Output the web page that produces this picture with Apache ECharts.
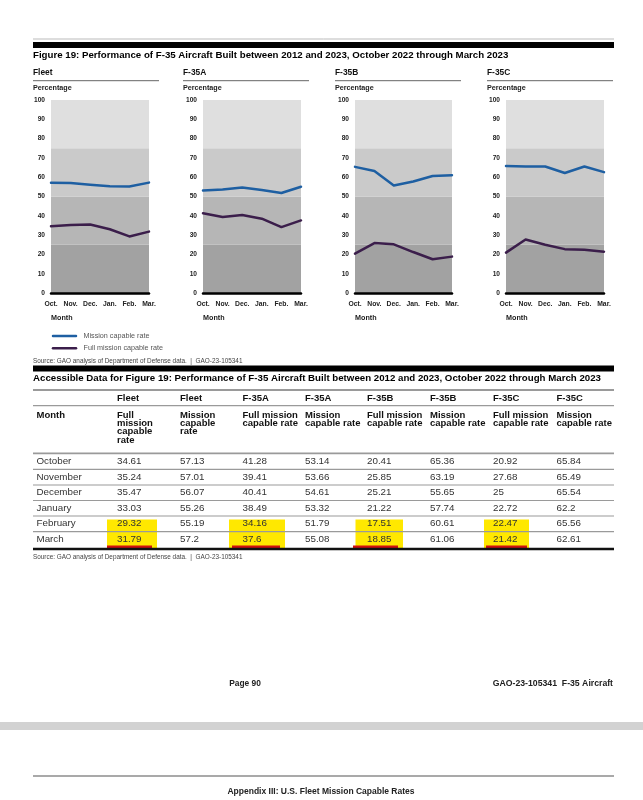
<!DOCTYPE html>
<html>
<head>
<meta charset="utf-8">
<script src="https://cdn.jsdelivr.net/npm/echarts@6/dist/echarts.min.js"></script>
<style>
html,body{margin:0;padding:0;background:#fff;}
#c{width:643px;height:800px;}
</style>
</head>
<body>
<div id="c"></div>
<script>
// ---- data ----
var monthsShort = ['Oct.', 'Nov.', 'Dec.', 'Jan.', 'Feb.', 'Mar.'];
var monthsLong = ['October', 'November', 'December', 'January', 'February', 'March'];
var panelTitles = ['Fleet', 'F-35A', 'F-35B', 'F-35C'];
var fleetFull = [34.61, 35.24, 35.47, 33.03, 29.32, 31.79];
var fleetMission = [57.13, 57.01, 56.07, 55.26, 55.19, 57.2];
var aFull = [41.28, 39.41, 40.41, 38.49, 34.16, 37.6];
var aMission = [53.14, 53.66, 54.61, 53.32, 51.79, 55.08];
var bFull = [20.41, 25.85, 25.21, 21.22, 17.51, 18.85];
var bMission = [65.36, 63.19, 55.65, 57.74, 60.61, 61.06];
var cFull = [20.92, 27.68, 25, 22.72, 22.47, 21.42];
var cMission = [65.84, 65.49, 65.54, 62.2, 65.56, 62.61];
var yTicks = [0, 10, 20, 30, 40, 50, 60, 70, 80, 90, 100];
var bandEdges = [0, 25, 50, 75, 100];

var fullSets = [fleetFull, aFull, bFull, cFull];
var missionSets = [fleetMission, aMission, bMission, cMission];

// ---- layout / style ----
var FONT = '"Liberation Sans", Arial, sans-serif';
var gridLefts = [51, 203, 355, 506];
var gridWidths = [98, 98, 97, 98];
var titleX = [33, 183, 335, 487];
var bandColors = ['#a2a2a2', '#b6b6b6', '#cacaca', '#dfdfdf'];
var missionColor = '#1e5fa2';
var fullColor = '#3b1e4b';

var grids = [], xAxes = [], yAxes = [], series = [];
for (var i = 0; i < 4; i++) {
  grids.push({ left: gridLefts[i], width: gridWidths[i], top: 100, height: 193, containLabel: false });
  xAxes.push({
    type: 'category', gridIndex: i, data: monthsShort, boundaryGap: false,
    axisLine: { show: true, onZero: false, lineStyle: { color: '#000', width: 2.5 } },
    axisTick: { show: false },
    axisLabel: { interval: 0, fontSize: 6.8, fontWeight: 'bold', color: '#222', fontFamily: FONT, margin: 8 },
    splitLine: { show: false }, z: 5
  });
  yAxes.push({
    type: 'value', gridIndex: i, min: 0, max: 100, interval: 10,
    axisLine: { show: false }, axisTick: { show: false }, splitLine: { show: false },
    axisLabel: { fontSize: 6.6, fontWeight: 'bold', color: '#222', fontFamily: FONT, margin: 6 }
  });
  var bands = [];
  for (var b = 0; b < 4; b++) {
    bands.push([{ yAxis: bandEdges[b], itemStyle: { color: bandColors[b], opacity: 1 } }, { yAxis: bandEdges[b + 1] }]);
  }
  series.push({
    name: 'Full mission capable rate', type: 'line', xAxisIndex: i, yAxisIndex: i,
    data: fullSets[i], symbol: 'none', smooth: false, color: fullColor,
    lineStyle: { color: fullColor, width: 2.5, join: 'round', cap: 'round' },
    markArea: { silent: true, data: bands, label: { show: false } },
    z: 2
  });
  series.push({
    name: 'Mission capable rate', type: 'line', xAxisIndex: i, yAxisIndex: i,
    data: missionSets[i], symbol: 'none', smooth: false, color: missionColor,
    lineStyle: { color: missionColor, width: 2.5, join: 'round', cap: 'round' },
    z: 3
  });
}

// ---- graphic elements (page text, legend, table) ----
var g = [];
function txt(x, y, s, size, weight, color, align) {
  g.push({ type: 'text', silent: true, style: { x: x, y: y, text: s, fontSize: size, fontWeight: weight || 'normal',
    fill: color || '#111', fontFamily: FONT, align: align || 'left', verticalAlign: 'middle' } });
}
function hline(x1, x2, y, w, color) {
  g.push({ type: 'line', silent: true, shape: { x1: x1, y1: y, x2: x2, y2: y }, style: { stroke: color, lineWidth: w } });
}
function rect(x, y, w, h, color) {
  g.push({ type: 'rect', silent: true, shape: { x: x, y: y, width: w, height: h }, style: { fill: color } });
}

// top rules and title
hline(33, 614, 39, 1, '#bbbbbb');
rect(33, 42, 581, 6, '#000');
txt(33, 55.5, 'Figure 19: Performance of F-35 Aircraft Built between 2012 and 2023, October 2022 through March 2023', 9.7, 'bold', '#000');

for (var p = 0; p < 4; p++) {
  txt(titleX[p], 72.5, panelTitles[p], 8.4, 'bold', '#111');
  hline(titleX[p], titleX[p] + 126, 80.7, 1, '#666');
  txt(titleX[p], 88, 'Percentage', 7.2, 'bold', '#222');
  txt(gridLefts[p], 318, 'Month', 7.2, 'bold', '#222');
}
// legend
var legendItems = [['Mission capable rate', missionColor, 336], ['Full mission capable rate', fullColor, 348.3]];
for (var li = 0; li < legendItems.length; li++) {
  g.push({ type: 'line', silent: true, shape: { x1: 53, y1: legendItems[li][2], x2: 76, y2: legendItems[li][2] },
    style: { stroke: legendItems[li][1], lineWidth: 2.5, lineCap: 'round' } });
  txt(83.5, legendItems[li][2], legendItems[li][0], 7.2, 'normal', '#555');
}
txt(33, 361.5, 'Source: GAO analysis of Department of Defense data.  |  GAO-23-105341', 6.4, 'normal', '#444');
rect(33, 365.5, 581, 6, '#000');

// table
txt(33, 378.5, 'Accessible Data for Figure 19: Performance of F-35 Aircraft Built between 2012 and 2023, October 2022 through March 2023', 9.7, 'bold', '#000');
var colX = [36.5, 117, 180, 242.5, 305, 367, 430, 493, 556.5];
var head1 = ['', 'Fleet', 'Fleet', 'F-35A', 'F-35A', 'F-35B', 'F-35B', 'F-35C', 'F-35C'];
var head2 = ['Month', 'Full\nmission\ncapable\nrate', 'Mission\ncapable\nrate', 'Full mission\ncapable rate', 'Mission\ncapable rate',
  'Full mission\ncapable rate', 'Mission\ncapable rate', 'Full mission\ncapable rate', 'Mission\ncapable rate'];
var cols = [fleetFull, fleetMission, aFull, aMission, bFull, bMission, cFull, cMission];
hline(33, 614, 390, 1.8, '#9a9a9a');
hline(33, 614, 405.7, 1.2, '#9a9a9a');
hline(33, 614, 453.3, 1.8, '#9a9a9a');
for (var c = 0; c < 9; c++) {
  txt(colX[c], 398.3, head1[c], 9.5, 'bold', '#111');
  g.push({ type: 'text', silent: true, style: { x: colX[c], y: 410.8, text: head2[c], fontSize: 9.5, fontWeight: 'bold',
    fill: '#111', fontFamily: FONT, align: 'left', verticalAlign: 'top', lineHeight: 8.4 } });
}
var rowY = [461.5, 477, 492.5, 508, 523.5, 539];
var rowLines = [469.3, 485, 500.5, 516, 531.7];
// highlight boxes (Feb & March of full mission columns)
var hlX = [[107, 157], [229, 285], [355.5, 403], [484, 529]];
var ulX = [[107, 152], [232, 280], [353, 398], [486, 527]];
for (var h = 0; h < 4; h++) {
  rect(hlX[h][0], 519.5, hlX[h][1] - hlX[h][0], 28.5, '#ffe800');
}
for (var r = 0; r < rowLines.length; r++) hline(33, 614, rowLines[r], 1.2, '#9a9a9a');
for (var h2 = 0; h2 < 4; h2++) {
  rect(ulX[h2][0], 545.5, ulX[h2][1] - ulX[h2][0], 2.5, '#d01010');
}
for (var rr = 0; rr < 6; rr++) {
  txt(colX[0], rowY[rr], monthsLong[rr], 9.8, 'normal', '#333');
  for (var k = 0; k < 8; k++) {
    txt(colX[k + 1], rowY[rr], String(cols[k][rr]), 9.8, 'normal', '#333');
  }
}
hline(33, 614, 549, 2.5, '#111');
txt(33, 557.5, 'Source: GAO analysis of Department of Defense data.  |  GAO-23-105341', 6.4, 'normal', '#444');

// page footer
txt(245, 684, 'Page 90', 8.4, 'bold', '#222', 'center');
txt(613, 684, 'GAO-23-105341  F-35 Aircraft', 8.7, 'bold', '#222', 'right');
rect(0, 722, 643, 8, '#d2d2d2');
hline(33, 614, 776, 1.2, '#555');
txt(321, 792, 'Appendix III: U.S. Fleet Mission Capable Rates', 8.5, 'bold', '#222', 'center');

var chart = echarts.init(document.getElementById('c'), null, { renderer: 'canvas' });
chart.setOption({
  backgroundColor: '#ffffff',
  animation: false,
  textStyle: { fontFamily: FONT },
  grid: grids,
  xAxis: xAxes,
  yAxis: yAxes,
  series: series,
  graphic: g
});
</script>
</body>
</html>
